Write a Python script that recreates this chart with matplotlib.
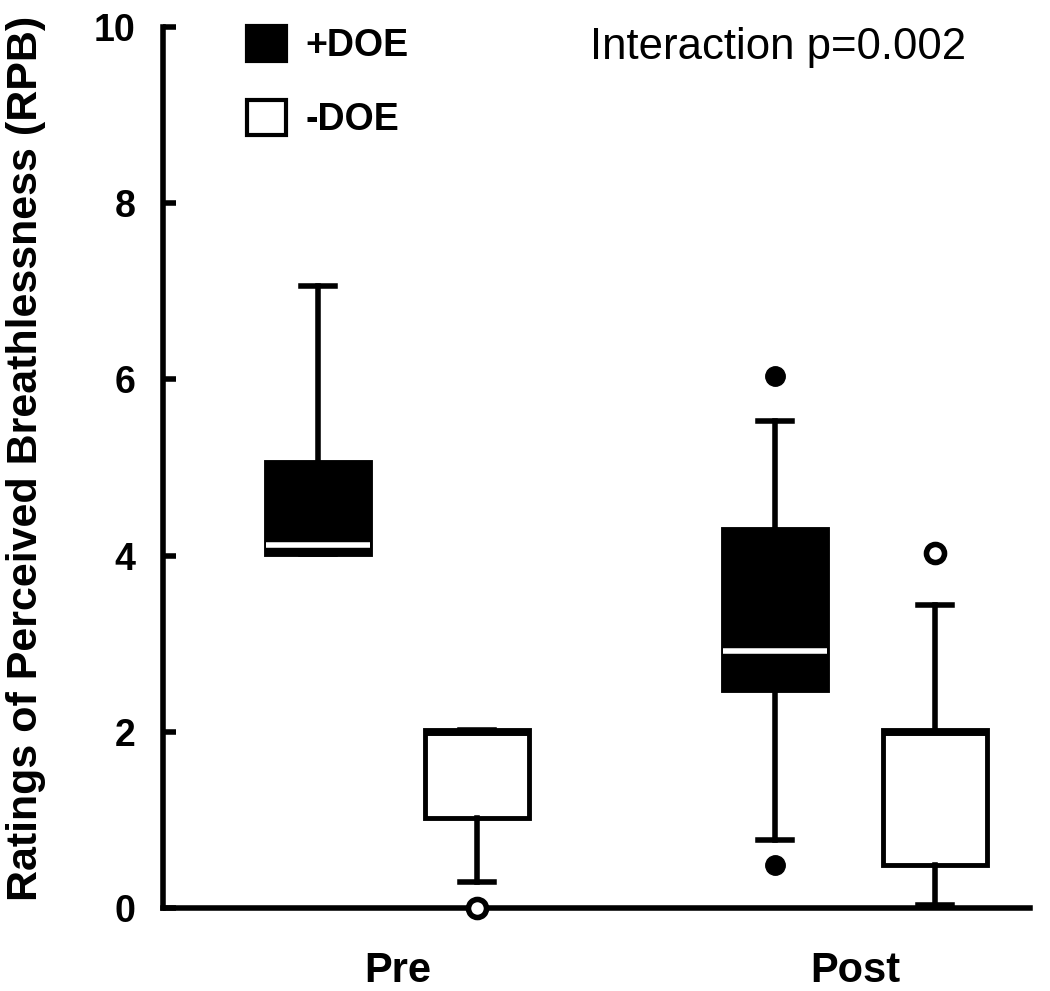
import matplotlib
matplotlib.use("Agg")
import matplotlib.pyplot as plt
from matplotlib.patches import Patch

plt.rcParams['font.family'] = ['Liberation Sans', 'DejaVu Sans']

# ---------------- data ----------------
groups = ["Pre", "Post"]
series = ["+DOE", "-DOE"]

# per group: [+DOE, -DOE]
q1_vals = [[4.02, 1.02], [2.47, 0.49]]
med_vals = [[4.12, 2.00], [2.92, 2.00]]
q3_vals = [[5.06, 2.02], [4.30, 2.02]]
whislo_vals = [[4.02, 0.30], [0.77, 0.03]]
whishi_vals = [[7.06, 2.02], [5.53, 3.44]]
flier_vals = [[[], [0.0]], [[6.04, 0.49], [4.03]]]

y_ticks = [0, 2, 4, 6, 8, 10]
p_text = "Interaction p=0.002"
# -------------------------------------------------------------

offsets = [-0.174, 0.174]
box_w = 0.227

fig = plt.figure(figsize=(10.5, 9.91), dpi=100)
ax = fig.add_axes([163 / 1050, 1 - 908 / 991, (1030 - 163) / 1050, (908 - 27) / 991])

for gi, g in enumerate(groups):
    for si, s in enumerate(series):
        filled = (si == 0)
        stats = [dict(med=med_vals[gi][si], q1=q1_vals[gi][si], q3=q3_vals[gi][si],
                      whislo=whislo_vals[gi][si], whishi=whishi_vals[gi][si],
                      fliers=flier_vals[gi][si])]
        art = ax.bxp(stats, positions=[gi + offsets[si]], widths=box_w,
                     patch_artist=True, manage_ticks=False, capwidths=0.074,
                     boxprops=dict(facecolor="black" if filled else "white",
                                   edgecolor="black", linewidth=3.5),
                     whiskerprops=dict(color="black", linewidth=4),
                     capprops=dict(color="black", linewidth=4),
                     medianprops=dict(color="white" if filled else "black",
                                      linewidth=4 if filled else 5,
                                      solid_capstyle="butt"),
                     flierprops=dict(marker="o", markersize=14 if filled else 13,
                                     markerfacecolor="black" if filled else "white",
                                     markeredgecolor="black",
                                     markeredgewidth=1 if filled else 4))
        for fl in art["fliers"]:
            fl.set_clip_on(False)
            fl.set_zorder(4)

ax.set_xlim(-0.5126, 1.3825)
ax.set_ylim(0, 10)
ax.set_xticks([0, 1])
ax.set_xticklabels(groups, fontsize=30, fontweight="bold")
ax.set_yticks(y_ticks)
ax.set_yticklabels([str(t) for t in y_ticks], fontsize=27, fontweight="bold")
ax.tick_params(axis="x", length=0, pad=31)
ax.tick_params(axis="y", direction="in", length=9, width=4, pad=20)

for side in ["top", "right"]:
    ax.spines[side].set_visible(False)
for side in ["left", "bottom"]:
    ax.spines[side].set_linewidth(4)

ylab = ax.set_ylabel("Ratings of Perceived Breathlessness (RPB)", fontsize=31,
                     fontweight="bold", labelpad=14)
ax.yaxis.set_label_coords(-0.135, 0.51)

handles = [Patch(facecolor="black", edgecolor="black", linewidth=3),
           Patch(facecolor="white", edgecolor="black", linewidth=3)]
fig.legend(handles, series, loc="upper left",
           bbox_to_anchor=(247 / 1050, 1 - 26 / 991), frameon=False,
           prop=dict(size=27, weight="bold"), handlelength=1.05, handleheight=1.05,
           handletextpad=0.5, labelspacing=0.95, borderpad=0, borderaxespad=0)

fig.text(590 / 1050, 1 - 48 / 991, p_text, fontsize=31.5, ha="left", va="center")

fig.savefig("out.png", dpi=100)
